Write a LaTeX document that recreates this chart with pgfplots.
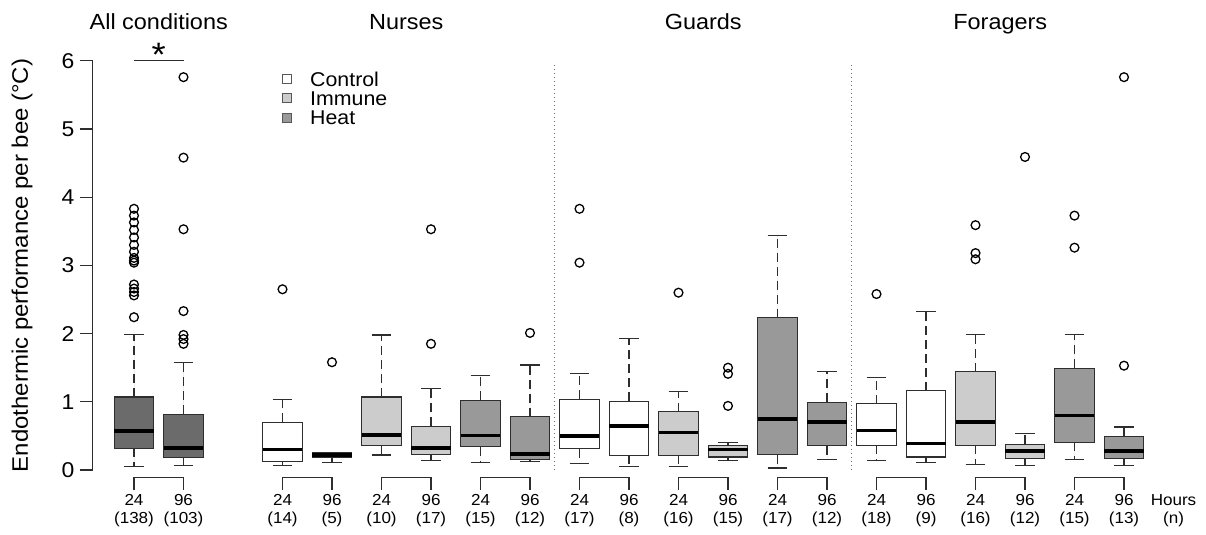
\documentclass[border=0pt]{standalone}
\usepackage{fontspec}
\setmainfont{Liberation Sans}[FakeStretch=1.07]
\usepackage{pgfplots}
\pgfplotsset{compat=1.18}
\usepgfplotslibrary{statistics}

\definecolor{allc}{gray}{0.42}
\definecolor{ctrl}{gray}{1}
\definecolor{immu}{gray}{0.80}
\definecolor{heat}{gray}{0.60}
\definecolor{edge}{gray}{0.18}

\pgfplotsset{
  rbox/.style={
    boxplot/draw direction=y,
    mark=o, mark size=4.4bp,
    mark options={solid, line width=1.3bp, draw=black, fill=none},
    draw=edge, line width=1.1bp,
    boxplot/box extend=0.8,
    boxplot/whisker extend=0.4,
    boxplot/every median/.style={line width=3.8bp, draw=black},
    boxplot/draw/lower whisker/.code={%
      \draw[dash pattern=on 9bp off 5bp]
        (boxplot box cs:\pgfplotsboxplotvalue{lower quartile},0.5) --
        (boxplot box cs:\pgfplotsboxplotvalue{lower whisker},0.5);
      \draw
        (boxplot whisker cs:\pgfplotsboxplotvalue{lower whisker},0) --
        (boxplot whisker cs:\pgfplotsboxplotvalue{lower whisker},1);
    },
    boxplot/draw/upper whisker/.code={%
      \draw[dash pattern=on 9bp off 5bp]
        (boxplot box cs:\pgfplotsboxplotvalue{upper quartile},0.5) --
        (boxplot box cs:\pgfplotsboxplotvalue{upper whisker},0.5);
      \draw
        (boxplot whisker cs:\pgfplotsboxplotvalue{upper whisker},0) --
        (boxplot whisker cs:\pgfplotsboxplotvalue{upper whisker},1);
    },
  },
}

\newcommand{\tsize}{\fontsize{22}{22}\selectfont}
\newcommand{\lsize}{\fontsize{20}{20}\selectfont}
\newcommand{\xsize}{\fontsize{16}{18.3}\selectfont}

\begin{document}
\begin{tikzpicture}
\useasboundingbox (-92.6bp,-65bp) rectangle (1113.4bp,470bp);
\begin{axis}[
  at={(0,0)}, anchor=south west,
  x=49.5bp, y=68.2bp,
  xmin=0.1636, xmax=22.5, ymin=0, ymax=6,
  axis x line=none, axis y line*=left,
  y axis line style={draw=edge, line width=1.1bp},
  ytick={0,1,2,3,4,5,6},
  tick align=outside, major tick length=12.6bp,
  ytick style={draw=edge, line width=1.1bp},
  yticklabel style={font=\fontsize{21.5}{21.5}\selectfont, xshift=-2bp},
  /pgf/number format/assume math mode=true,
  clip=false,
]
% All conditions
\addplot[rbox, fill=allc, boxplot prepared={draw position=1,
  lower whisker=0.05, lower quartile=0.32, median=0.57, upper quartile=1.07, upper whisker=1.99}]
  table[row sep=\\, y index=0] {y\\ 2.24\\ 2.56\\ 2.61\\ 2.66\\ 2.72\\ 3.04\\ 3.07\\ 3.11\\ 3.20\\ 3.30\\ 3.41\\ 3.52\\ 3.63\\ 3.73\\ 3.83\\};
\addplot[rbox, fill=allc, boxplot prepared={draw position=2,
  lower whisker=0.06, lower quartile=0.18, median=0.32, upper quartile=0.82, upper whisker=1.57}]
  table[row sep=\\, y index=0] {y\\ 1.85\\ 1.92\\ 1.98\\ 2.33\\ 3.53\\ 4.58\\ 5.76\\};
% Nurses
\addplot[rbox, fill=ctrl, boxplot prepared={draw position=4,
  lower whisker=0.065, lower quartile=0.12, median=0.30, upper quartile=0.70, upper whisker=1.04}]
  table[row sep=\\, y index=0] {y\\ 2.65\\};
\addplot[rbox, fill=ctrl, boxplot prepared={draw position=5,
  lower whisker=0.11, lower quartile=0.185, median=0.22, upper quartile=0.255, upper whisker=0.26}]
  table[row sep=\\, y index=0] {y\\ 1.58\\};
\addplot[rbox, fill=immu, boxplot prepared={draw position=6,
  lower whisker=0.22, lower quartile=0.365, median=0.51, upper quartile=1.07, upper whisker=1.98}]
  coordinates {};
\addplot[rbox, fill=immu, boxplot prepared={draw position=7,
  lower whisker=0.14, lower quartile=0.23, median=0.32, upper quartile=0.64, upper whisker=1.20}]
  table[row sep=\\, y index=0] {y\\ 1.85\\ 3.53\\};
\addplot[rbox, fill=heat, boxplot prepared={draw position=8,
  lower whisker=0.115, lower quartile=0.34, median=0.505, upper quartile=1.02, upper whisker=1.38}]
  coordinates {};
\addplot[rbox, fill=heat, boxplot prepared={draw position=9,
  lower whisker=0.125, lower quartile=0.15, median=0.24, upper quartile=0.78, upper whisker=1.54}]
  table[row sep=\\, y index=0] {y\\ 2.01\\};
% Guards
\addplot[rbox, fill=ctrl, boxplot prepared={draw position=10,
  lower whisker=0.10, lower quartile=0.315, median=0.50, upper quartile=1.04, upper whisker=1.42}]
  table[row sep=\\, y index=0] {y\\ 3.04\\ 3.83\\};
\addplot[rbox, fill=ctrl, boxplot prepared={draw position=11,
  lower whisker=0.055, lower quartile=0.215, median=0.64, upper quartile=1.01, upper whisker=1.93}]
  coordinates {};
\addplot[rbox, fill=immu, boxplot prepared={draw position=12,
  lower whisker=0.055, lower quartile=0.215, median=0.55, upper quartile=0.855, upper whisker=1.15}]
  table[row sep=\\, y index=0] {y\\ 2.60\\};
\addplot[rbox, fill=immu, boxplot prepared={draw position=13,
  lower whisker=0.14, lower quartile=0.19, median=0.30, upper quartile=0.365, upper whisker=0.40}]
  table[row sep=\\, y index=0] {y\\ 0.94\\ 1.41\\ 1.50\\};
\addplot[rbox, fill=heat, boxplot prepared={draw position=14,
  lower whisker=0.03, lower quartile=0.225, median=0.75, upper quartile=2.23, upper whisker=3.44}]
  coordinates {};
\addplot[rbox, fill=heat, boxplot prepared={draw position=15,
  lower whisker=0.155, lower quartile=0.355, median=0.70, upper quartile=0.99, upper whisker=1.45}]
  coordinates {};
% Foragers
\addplot[rbox, fill=ctrl, boxplot prepared={draw position=16,
  lower whisker=0.14, lower quartile=0.365, median=0.58, upper quartile=0.97, upper whisker=1.36}]
  table[row sep=\\, y index=0] {y\\ 2.58\\};
\addplot[rbox, fill=ctrl, boxplot prepared={draw position=17,
  lower whisker=0.115, lower quartile=0.19, median=0.39, upper quartile=1.16, upper whisker=2.33}]
  coordinates {};
\addplot[rbox, fill=immu, boxplot prepared={draw position=18,
  lower whisker=0.08, lower quartile=0.365, median=0.70, upper quartile=1.44, upper whisker=1.99}]
  table[row sep=\\, y index=0] {y\\ 3.09\\ 3.18\\ 3.59\\};
\addplot[rbox, fill=immu, boxplot prepared={draw position=19,
  lower whisker=0.065, lower quartile=0.165, median=0.28, upper quartile=0.38, upper whisker=0.53}]
  table[row sep=\\, y index=0] {y\\ 4.59\\};
\addplot[rbox, fill=heat, boxplot prepared={draw position=20,
  lower whisker=0.155, lower quartile=0.405, median=0.80, upper quartile=1.49, upper whisker=1.99}]
  table[row sep=\\, y index=0] {y\\ 3.26\\ 3.73\\};
\addplot[rbox, fill=heat, boxplot prepared={draw position=21,
  lower whisker=0.065, lower quartile=0.165, median=0.28, upper quartile=0.49, upper whisker=0.63}]
  table[row sep=\\, y index=0] {y\\ 1.53\\ 5.76\\};

% separators
\draw[edge!70, line width=1.3bp, dash pattern=on 1.4bp off 2.6bp] (axis cs:9.5,0) -- (axis cs:9.5,5.95);
\draw[edge!70, line width=1.3bp, dash pattern=on 1.4bp off 2.6bp] (axis cs:15.5,0) -- (axis cs:15.5,5.95);

% y label and titles
\node[rotate=90, font=\fontsize{22.5}{22.5}\selectfont] at ([xshift=-70.6bp]axis cs:0.1636,3.0) {Endothermic performance per bee (°C)};
\node[anchor=base, font=\tsize] at (axis cs:1.5,6.466) {All conditions};
\node[anchor=base, font=\tsize] at (axis cs:6.5,6.466) {Nurses};
\node[anchor=base, font=\tsize] at (axis cs:12.5,6.466) {Guards};
\node[anchor=base, font=\tsize] at (axis cs:18.5,6.466) {Foragers};

% significance
\draw[edge, line width=1.1bp] (axis cs:1,6) -- (axis cs:2,6);
\node[anchor=base, font=\fontsize{34}{34}\selectfont] at (axis cs:1.5,5.92) {*};

% legend
\draw[edge!80, line width=1bp, fill=ctrl] ([xshift=-4.5bp,yshift=-4.5bp]axis cs:4.09,5.73) rectangle ++(9bp,9bp);
\draw[edge!80, line width=1bp, fill=immu] ([xshift=-4.5bp,yshift=-4.5bp]axis cs:4.09,5.45) rectangle ++(9bp,9bp);
\draw[edge!80, line width=1bp, fill=heat] ([xshift=-4.5bp,yshift=-4.5bp]axis cs:4.09,5.16) rectangle ++(9bp,9bp);
\node[anchor=base west, font=\lsize, inner sep=0pt] at (axis cs:4.556,5.63) {Control};
\node[anchor=base west, font=\lsize, inner sep=0pt] at (axis cs:4.556,5.35) {Immune};
\node[anchor=base west, font=\lsize, inner sep=0pt] at (axis cs:4.556,5.06) {Heat};

% brackets under each pair
\draw[edge, line width=1.1bp] (axis cs:1,-0.293) |- (axis cs:2,-0.107) -- (axis cs:2,-0.293);
\draw[edge, line width=1.1bp] (axis cs:4,-0.293) |- (axis cs:5,-0.107) -- (axis cs:5,-0.293);
\draw[edge, line width=1.1bp] (axis cs:6,-0.293) |- (axis cs:7,-0.107) -- (axis cs:7,-0.293);
\draw[edge, line width=1.1bp] (axis cs:8,-0.293) |- (axis cs:9,-0.107) -- (axis cs:9,-0.293);
\draw[edge, line width=1.1bp] (axis cs:10,-0.293) |- (axis cs:11,-0.107) -- (axis cs:11,-0.293);
\draw[edge, line width=1.1bp] (axis cs:12,-0.293) |- (axis cs:13,-0.107) -- (axis cs:13,-0.293);
\draw[edge, line width=1.1bp] (axis cs:14,-0.293) |- (axis cs:15,-0.107) -- (axis cs:15,-0.293);
\draw[edge, line width=1.1bp] (axis cs:16,-0.293) |- (axis cs:17,-0.107) -- (axis cs:17,-0.293);
\draw[edge, line width=1.1bp] (axis cs:18,-0.293) |- (axis cs:19,-0.107) -- (axis cs:19,-0.293);
\draw[edge, line width=1.1bp] (axis cs:20,-0.293) |- (axis cs:21,-0.107) -- (axis cs:21,-0.293);

% hours and sample sizes
\node[align=center, font=\xsize] at (axis cs:1,-0.6) {24\\(138)};
\node[align=center, font=\xsize] at (axis cs:2,-0.6) {96\\(103)};
\node[align=center, font=\xsize] at (axis cs:4,-0.6) {24\\(14)};
\node[align=center, font=\xsize] at (axis cs:5,-0.6) {96\\(5)};
\node[align=center, font=\xsize] at (axis cs:6,-0.6) {24\\(10)};
\node[align=center, font=\xsize] at (axis cs:7,-0.6) {96\\(17)};
\node[align=center, font=\xsize] at (axis cs:8,-0.6) {24\\(15)};
\node[align=center, font=\xsize] at (axis cs:9,-0.6) {96\\(12)};
\node[align=center, font=\xsize] at (axis cs:10,-0.6) {24\\(17)};
\node[align=center, font=\xsize] at (axis cs:11,-0.6) {96\\(8)};
\node[align=center, font=\xsize] at (axis cs:12,-0.6) {24\\(16)};
\node[align=center, font=\xsize] at (axis cs:13,-0.6) {96\\(15)};
\node[align=center, font=\xsize] at (axis cs:14,-0.6) {24\\(17)};
\node[align=center, font=\xsize] at (axis cs:15,-0.6) {96\\(12)};
\node[align=center, font=\xsize] at (axis cs:16,-0.6) {24\\(18)};
\node[align=center, font=\xsize] at (axis cs:17,-0.6) {96\\(9)};
\node[align=center, font=\xsize] at (axis cs:18,-0.6) {24\\(16)};
\node[align=center, font=\xsize] at (axis cs:19,-0.6) {96\\(12)};
\node[align=center, font=\xsize] at (axis cs:20,-0.6) {24\\(15)};
\node[align=center, font=\xsize] at (axis cs:21,-0.6) {96\\(13)};
\node[align=center, font=\xsize] at (axis cs:22,-0.6) {Hours\\(n)};
\end{axis}
\end{tikzpicture}
\end{document}
